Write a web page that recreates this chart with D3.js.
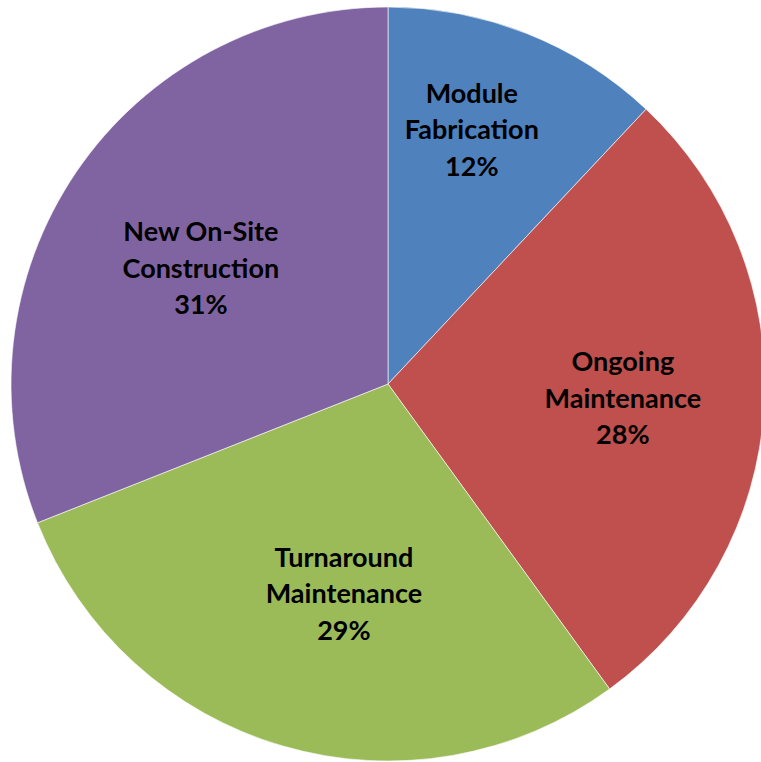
<!DOCTYPE html>
<html>
<head>
<meta charset="utf-8">
<script src="https://cdn.jsdelivr.net/npm/d3@7"></script>
<style>
  body { margin: 0; background: #fff; }
  svg { display: block; }
</style>
</head>
<body>
<div id="chart"></div>
<script>
var categories = ['Module Fabrication', 'Ongoing Maintenance', 'Turnaround Maintenance', 'New On-Site Construction'];
var labelLines = [['Module', 'Fabrication'], ['Ongoing', 'Maintenance'], ['Turnaround', 'Maintenance'], ['New On-Site', 'Construction']];
var shares = [12, 28, 29, 31];
var colors = ['#4F81BD', '#C0504D', '#9BBB59', '#8064A2'];

var dataset = [];
categories.forEach(function(c, i){
	dataset.push({ name: c, lines: labelLines[i], value: shares[i], color: colors[i] });
});

var width = 761,
	height = 762,
	cx = 388,
	cy = 384,
	radius = 377;

// excel "best fit" label spots: share of radius + small angle nudge (deg)
var labelPos = [0.712, 0.624, 0.567, 0.584];
var labelNudge = [-3.4, -0.2, -4.3, -2.4];

var svg = d3.select('#chart').append('svg')
	.attr('width', width)
	.attr('height', height)
	.append('g')
	.attr('transform', 'translate(' + cx + ',' + cy + ')');

var pie = d3.pie()
	.sort(null)
	.value(function(d){ return d.value; });

var arc = d3.arc()
	.innerRadius(0)
	.outerRadius(radius);

var arcs = pie(dataset);

svg.selectAll('path')
	.data(arcs)
	.enter().append('path')
		.attr('d', arc)
		.attr('fill', function(d){ return d.data.color; })
		.attr('stroke', '#ffffff')
		.attr('stroke-opacity', 0.6)
		.attr('stroke-width', 1);

var labels = svg.selectAll('text')
	.data(arcs)
	.enter().append('text')
		.attr('transform', function(d, i){
			var a = (d.startAngle + d.endAngle) / 2 + labelNudge[i] * Math.PI / 180;
			var r = radius * labelPos[i];
			return 'translate(' + (r * Math.sin(a)) + ',' + (-r * Math.cos(a)) + ')';
		})
		.attr('text-anchor', 'middle')
		.style('font-family', 'Lato, "Open Sans", sans-serif')
		.style('font-weight', 'bold')
		.style('font-size', '27px')
		.style('fill', '#000');

labels.each(function(d){
	var t = d3.select(this);
	var rows = d.data.lines.concat([d.data.value + '%']);
	rows.forEach(function(r, j){
		t.append('tspan')
			.attr('x', 0)
			.attr('y', (j - 1) * 36.5 + 10)
			.text(r);
	});
});
</script>
</body>
</html>
